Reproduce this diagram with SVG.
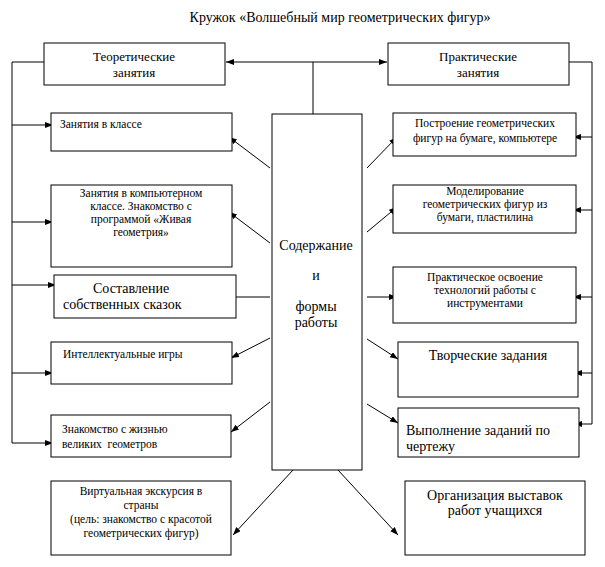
<svg xmlns="http://www.w3.org/2000/svg" width="605" height="567" viewBox="0 0 605 567" font-family="'Liberation Serif', 'Times New Roman', serif">
<defs>
<marker id="ah" markerUnits="userSpaceOnUse" markerWidth="9" markerHeight="7" refX="8" refY="3" orient="auto">
<path d="M0,0 L8,3 L0,6 z" fill="#000"/>
</marker>
<style>
rect{fill:#fff;stroke:#000;stroke-width:1}
text{font-family:'Liberation Serif','Times New Roman',serif;fill:#000}
.s{font-size:11.5px}
.m{font-size:13px}
.l{font-size:14px}
.c{text-anchor:middle}
#conn line,#conn path{stroke:#000;stroke-width:1;fill:none}
.a{marker-end:url(#ah)}
</style>
</defs>
<rect x="0" y="0" width="605" height="567" style="fill:#fff;stroke:none"/>
<text class="l c" x="340" y="22">Кружок «Волшебный мир геометрических фигур»</text>

<g id="conn">
<path d="M44,62 H12 V443"/>
<path d="M569,62 H592 V424"/>
<line x1="313" y1="114" x2="313" y2="62"/>
<line class="a" x1="313" y1="62" x2="226" y2="62"/>
<line class="a" x1="313" y1="62" x2="387" y2="62"/>
<line class="a" x1="12" y1="125" x2="53" y2="125"/>
<line class="a" x1="12" y1="222" x2="53" y2="222"/>
<line class="a" x1="12" y1="285" x2="56" y2="285"/>
<line class="a" x1="12" y1="373" x2="53" y2="373"/>
<line class="a" x1="12" y1="443" x2="53" y2="443"/>
<line class="a" x1="592" y1="137" x2="573" y2="137"/>
<line class="a" x1="592" y1="210" x2="573" y2="210"/>
<line class="a" x1="592" y1="297" x2="573" y2="297"/>
<line class="a" x1="592" y1="373" x2="574" y2="373"/>
<line class="a" x1="592" y1="424" x2="574" y2="424"/>
<line class="a" x1="270" y1="168" x2="229" y2="137"/>
<line class="a" x1="270" y1="243" x2="229" y2="212"/>
<line class="a" x1="270" y1="297" x2="228" y2="297"/>
<line class="a" x1="270" y1="338" x2="231" y2="358"/>
<line class="a" x1="270" y1="402" x2="231" y2="432"/>
<line class="a" x1="293" y1="470" x2="233" y2="535"/>
<line class="a" x1="367" y1="168" x2="397" y2="137"/>
<line class="a" x1="367" y1="232" x2="397" y2="207"/>
<line class="a" x1="367" y1="297" x2="397" y2="297"/>
<line class="a" x1="367" y1="339" x2="398" y2="359"/>
<line class="a" x1="367" y1="404" x2="398" y2="423"/>
<line class="a" x1="338" y1="470" x2="398" y2="535"/>
</g>

<g id="teor">
<rect x="44" y="43" width="181" height="42"/>
<text class="m c" x="134" y="61">Теоретические</text>
<text class="m c" x="134" y="77">занятия</text>
</g>
<g id="prakt">
<rect x="388" y="43" width="181" height="42"/>
<text class="m c" x="478" y="61">Практические</text>
<text class="m c" x="478" y="77">занятия</text>
</g>
<g id="center">
<rect x="272" y="114" width="90" height="356"/>
<text class="l c" x="316" y="250">Содержание</text>
<text class="l c" x="316" y="280">и</text>
<text class="l c" x="316" y="311">формы</text>
<text class="l c" x="316" y="327">работы</text>
</g>

<g id="l1">
<rect x="51" y="113" width="181" height="38"/>
<text class="s" x="60" y="128">Занятия в классе</text>
</g>
<g id="l2">
<rect x="51" y="185" width="181" height="82"/>
<text class="s c" x="141" y="197">Занятия в компьютерном</text>
<text class="s c" x="141" y="210">классе. Знакомство с</text>
<text class="s c" x="141" y="223">программой «Живая</text>
<text class="s c" x="141" y="236">геометрия»</text>
</g>
<g id="l3">
<rect x="54" y="275" width="182" height="43"/>
<text class="l" x="93" y="293">Составление</text>
<text class="l" x="63" y="309">собственных сказок</text>
</g>
<g id="l4">
<rect x="51" y="342" width="181" height="42"/>
<text class="s" x="63" y="358">Интеллектуальные игры</text>
</g>
<g id="l5">
<rect x="51" y="415" width="180" height="42"/>
<text class="s" x="62" y="433">Знакомство с жизнью</text>
<text class="s" x="62" y="448" style="white-space:pre">великих  геометров</text>
</g>
<g id="l6">
<rect x="51" y="481" width="180" height="74"/>
<text class="s c" x="141" y="495">Виртуальная экскурсия в</text>
<text class="s c" x="141" y="509">страны</text>
<text class="s c" x="141" y="523">(цель: знакомство с красотой</text>
<text class="s c" x="141" y="537">геометрических фигур)</text>
</g>

<g id="r1">
<rect x="393" y="113" width="183" height="43"/>
<text class="s c" x="485" y="127">Построение геометрических</text>
<text class="s c" x="485" y="142">фигур на бумаге, компьютере</text>
</g>
<g id="r2">
<rect x="393" y="185" width="183" height="48"/>
<text class="s c" x="485" y="195">Моделирование</text>
<text class="s c" x="485" y="208">геометрических фигур из</text>
<text class="s c" x="485" y="221">бумаги, пластилина</text>
</g>
<g id="r3">
<rect x="393" y="267" width="183" height="56"/>
<text class="s c" x="485" y="281">Практическое освоение</text>
<text class="s c" x="485" y="294">технологий работы с</text>
<text class="s c" x="485" y="307">инструментами</text>
</g>
<g id="r4">
<rect x="398" y="342" width="180" height="55"/>
<text class="l c" x="488" y="360">Творческие задания</text>
</g>
<g id="r5">
<rect x="398" y="408" width="181" height="49"/>
<text class="l" x="406" y="435">Выполнение заданий по</text>
<text class="l" x="406" y="451">чертежу</text>
</g>
<g id="r6">
<rect x="405" y="481" width="180" height="74"/>
<text class="l c" x="495" y="500">Организация выставок</text>
<text class="l c" x="495" y="515">работ учащихся</text>
</g>
</svg>
